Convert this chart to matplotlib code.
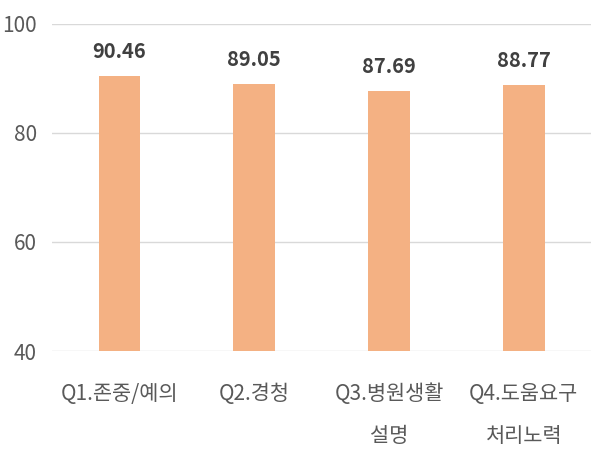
import matplotlib
matplotlib.use("Agg")
import matplotlib.pyplot as plt

categories = ["Q1.존중/예의", "Q2.경청", "Q3.병원생활\n설명", "Q4.도움요구\n처리노력"]
values = [90.46, 89.05, 87.69, 88.77]
yticks = [40, 60, 80, 100]

plt.rcParams['font.family'] = ['Noto Sans CJK KR', 'DejaVu Sans']

fig = plt.figure(figsize=(6, 4.5), dpi=100)
ax = fig.add_axes([0.087, 0.22, 0.898, 0.727])

x = list(range(len(categories)))
ax.bar(x, values, width=0.31, color="#F4B183", zorder=3)
for xi, v in zip(x, values):
    ax.annotate(f"{v:.2f}", (xi, v), xytext=(0, 10), textcoords="offset points",
                ha="center", va="bottom", fontsize=14.5, fontweight="bold", color="#404040")

ax.set_xlim(-0.5, 3.5)
ax.set_ylim(40, 100)
ax.set_yticks(yticks)
ax.set_yticklabels([str(t) for t in yticks])
ax.set_xticks(x)
ax.set_xticklabels(categories, linespacing=2.2, va="top")
ax.tick_params(axis="both", length=0, labelsize=15, colors="#595959")
ax.tick_params(axis="x", pad=23)
ax.tick_params(axis="y", pad=11)
ax.yaxis.grid(True, color="#D9D9D9", linewidth=1, zorder=0)
for s in ax.spines.values():
    s.set_visible(False)

fig.savefig("out.png", dpi=100)
